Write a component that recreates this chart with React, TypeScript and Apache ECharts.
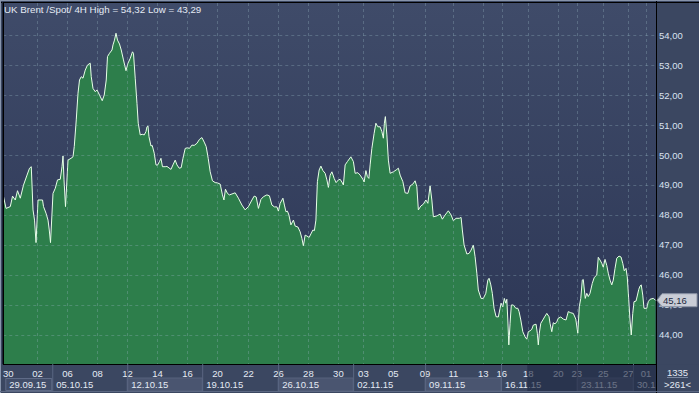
import React, { useEffect, useRef } from 'react';
import * as echarts from 'echarts';

// 4H bars of UK Brent spot (x = bar number since the first visible bar)
const barIndex = [
  0.1, 1.1, 2.8, 3.7, 4.8, 5.7, 6.8, 8.1, 9.5, 10.5, 11.2, 11.9, 12.5, 13.1, 13.9, 15.7, 16.1, 17.1, 17.9, 18.4,
  18.9, 19.9, 20.8, 21.7, 22.8, 23.5, 23.9, 24.3, 24.9, 25.9, 27.1, 27.9, 28.4, 29.2, 29.9, 30.5, 31.2, 31.9, 32.8, 33.7,
  34.8, 35.2, 35.9, 36.8, 37.5, 38.5, 39.6, 40.4, 41.2, 41.7, 42.5, 43.5, 43.9, 44.5, 45.1, 45.7, 46.5, 47.2, 48.1, 49.1,
  49.9, 50.8, 51.7, 52.1, 52.8, 53.5, 54.0, 54.8, 55.6, 56.4, 57.1, 57.5, 57.9, 58.3, 59.1, 59.6, 60.4, 61.1, 61.7, 62.5,
  63.1, 63.7, 64.8, 65.5, 67.1, 67.9, 68.8, 69.5, 70.4, 71.2, 71.9, 72.8, 73.7, 74.5, 75.5, 76.4, 77.5, 78.5, 79.5, 80.4,
  81.2, 82.0, 82.8, 83.7, 84.8, 85.7, 86.8, 87.7, 88.3, 88.9, 89.7, 90.5, 92.8, 94.1, 95.5, 96.8, 98.1, 99.5, 100.4, 101.2,
  102.1, 103.1, 104.1, 105.5, 106.5, 107.5, 108.5, 109.5, 110.1, 110.8, 111.9, 112.5, 113.1, 113.7, 114.3, 115.1, 116.1, 116.8, 117.9, 118.8,
  119.5, 120.1, 120.8, 121.5, 122.4, 123.1, 123.9, 124.5, 125.1, 125.7, 126.4, 127.1, 127.9, 128.8, 129.5, 130.1, 130.8, 131.5, 132.4, 133.2,
  134.1, 134.8, 135.5, 136.1, 136.8, 137.7, 139.1, 140.1, 140.8, 141.9, 142.8, 143.9, 144.4, 145.1, 145.7, 146.3, 146.8, 147.5, 148.4, 149.1,
  149.9, 150.8, 151.5, 152.1, 152.5, 152.9, 153.5, 154.1, 154.8, 156.1, 157.2, 158.1, 158.8, 159.9, 160.8, 161.9, 162.8, 163.9, 164.8, 165.5,
  166.1, 167.1, 168.1, 169.1, 169.9, 170.8, 171.5, 172.1, 173.5, 174.8, 175.7, 176.8, 178.1, 179.2, 180.1, 181.2, 182.5, 183.2, 183.7, 184.4,
  185.5, 186.4, 187.2, 188.1, 188.8, 189.5, 190.1, 191.2, 192.1, 193.1, 193.9, 194.4, 195.1, 195.7, 196.4, 197.2, 198.1, 198.8, 199.2, 199.9,
  200.5, 201.1, 201.5, 201.9, 202.3, 202.8, 203.3, 204.1, 205.1, 205.9, 206.4, 207.1, 207.9, 208.8, 209.5, 210.1, 210.8, 211.5, 212.1, 213.2,
  213.7, 214.1, 214.5, 215.1, 215.9, 216.8, 217.5, 218.4, 218.8, 219.5, 220.1, 220.8, 221.5, 222.1, 223.1, 224.1, 225.2, 226.1, 227.1, 228.1,
  229.1, 229.9, 230.5, 231.1, 231.7, 232.1, 232.4, 232.9, 233.5, 234.1, 234.8, 235.7, 236.5, 237.5, 238.1, 238.8, 239.5, 240.1, 240.8, 241.5,
  242.1, 242.8, 243.5, 244.1, 244.8, 245.5, 246.4, 247.2, 247.9, 248.5, 249.2, 249.7, 250.3, 250.8, 251.3, 251.9, 252.4, 253.2, 253.7, 254.3,
  254.8, 255.3, 255.9, 256.4, 257.5, 258.1, 258.8, 260.1, 261.0,
];

const closePrice = [
  48.61, 48.22, 48.28, 48.63, 48.5, 48.81, 48.56, 49.0, 49.33, 49.56, 49.61, 48.17, 47.83, 47.08, 48.5, 48.5, 48.28, 48.06, 47.83, 47.5,
  47.08, 48.72, 48.89, 49.17, 49.19, 49.61, 49.97, 49.17, 48.28, 49.83, 49.89, 49.94, 50.28, 51.17, 52.06, 52.5, 52.61, 52.56, 52.83, 53.0,
  53.06, 52.61, 52.22, 52.11, 52.17, 52.0, 51.81, 52.0, 52.5, 53.28, 53.39, 53.5, 53.67, 53.83, 54.06, 53.83, 53.7, 53.5, 53.17, 52.81,
  53.06, 53.22, 53.44, 53.39, 52.56, 51.72, 51.06, 50.67, 50.69, 50.67, 50.78, 50.94, 50.97, 50.61, 50.3, 50.32, 50.06, 49.67, 49.66, 49.78,
  49.89, 49.61, 49.61, 49.62, 49.52, 49.67, 49.83, 49.67, 49.56, 49.58, 49.89, 50.22, 50.24, 50.22, 50.33, 50.32, 50.39, 50.52, 50.58, 50.43,
  50.28, 49.89, 49.44, 49.14, 49.08, 49.07, 49.03, 48.67, 48.5, 48.86, 48.72, 48.67, 48.74, 48.56, 48.33, 48.17, 48.28, 48.5, 48.63, 48.6,
  48.22, 48.52, 48.61, 48.67, 48.64, 48.33, 48.27, 48.27, 48.13, 48.39, 48.56, 48.33, 48.11, 48.13, 48.0, 47.67, 47.83, 47.63, 47.6, 47.44,
  47.22, 46.97, 47.33, 47.3, 47.25, 47.37, 47.5, 47.48, 47.83, 49.11, 49.5, 49.63, 49.48, 49.39, 49.17, 48.92, 49.33, 49.44, 49.22, 49.08,
  49.17, 49.19, 49.1, 49.0, 49.67, 49.78, 49.94, 49.78, 49.39, 49.41, 49.33, 49.19, 49.1, 49.48, 49.28, 49.22, 49.67, 50.22, 50.72, 51.06,
  50.94, 50.94, 50.78, 50.56, 51.06, 51.28, 50.67, 49.83, 49.39, 49.44, 49.5, 49.56, 49.33, 49.11, 48.74, 48.72, 48.97, 49.03, 49.14, 48.94,
  48.17, 48.3, 48.36, 48.5, 48.39, 48.97, 48.5, 47.94, 47.97, 48.03, 47.86, 48.0, 48.14, 48.0, 47.81, 47.89, 47.89, 47.92, 47.5, 47.0,
  46.7, 46.72, 46.83, 47.0, 46.61, 46.06, 45.5, 45.22, 45.22, 45.39, 45.83, 45.89, 45.67, 45.39, 44.89, 44.61, 44.6, 44.89, 45.06, 44.94,
  45.22, 45.06, 45.19, 44.5, 43.67, 44.39, 45.0, 45.0, 44.89, 44.89, 44.78, 44.5, 44.11, 43.94, 43.86, 44.11, 44.14, 44.19, 44.33, 44.36,
  44.06, 43.67, 44.06, 44.39, 44.5, 44.63, 44.72, 44.61, 44.39, 44.11, 44.41, 44.37, 44.44, 44.56, 44.6, 44.53, 44.5, 44.78, 44.74, 44.72,
  44.53, 44.06, 44.94, 45.22, 45.83, 45.85, 45.6, 45.22, 45.39, 45.28, 45.39, 45.72, 45.92, 46.0, 46.59, 46.5, 46.39, 46.26, 46.52, 46.32,
  46.06, 45.83, 45.67, 45.83, 46.22, 46.56, 46.63, 46.6, 46.39, 46.14, 46.22, 45.94, 45.17, 44.5, 44.0, 44.72, 45.11, 45.13, 45.3, 45.52,
  45.63, 45.67, 45.33, 44.89, 44.89, 45.11, 45.19, 45.22, 45.16,
];

const dayLabels = ['30', '02', '06', '08', '12', '14', '16', '20', '22', '26', '28', '30', '03', '05', '09', '11', '13', '16', '18', '20', '23', '25', '27', '01'];
const dayBars = [2.0, 13.7, 25.7, 37.7, 49.7, 61.7, 73.7, 85.7, 98.1, 110.1, 122.1, 134.1, 144.1, 156.1, 168.8, 180.1, 192.1, 199.5, 210.1, 222.1, 229.5, 240.1, 250.1, 257.2];

const weekLabels = ['29.09.15', '05.10.15', '12.10.15', '19.10.15', '26.10.15', '02.11.15', '09.11.15', '16.11.15', '23.11.15', '30.11.15'];
const weekBars = [0.8, 19.6, 49.6, 79.6, 110.0, 140.0, 168.8, 199.2, 229.6, 252.0];

const priceTicks = [44, 45, 46, 47, 48, 49, 50, 51, 52, 53, 54];

const titleText = 'UK Brent /Spot/ 4H High = 54,32 Low = 43,29';
const lastPrice = 45.16;
const totalBars = '1335';
const visibleBars = '>261<';
const selectionStartBar = 209.7;

const X_MAX = 261.2;
const Y_MIN = 43.033;
const Y_MAX = 55.067;

const GRID = { left: 3, right: 43, top: 3, bottom: 29 };
const CW = 699;
const CH = 393;
const FONT = 'Liberation Sans, Arial, sans-serif';
const LABEL_SIZE = 9.5;
const fmtPrice = (v: number) => v.toFixed(2).replace('.', ',');

export default function App() {
  const ref = useRef<HTMLDivElement>(null);

  useEffect(() => {
    document.body.style.margin = '0';
    const chart = echarts.init(ref.current!, null, { renderer: 'svg' });
    const data = barIndex.map((b, i) => [b, closePrice[i]]);
    const nearest = (bars: number[], v: number) => {
      let best = 0;
      bars.forEach((b, i) => { if (Math.abs(b - v) < Math.abs(bars[best] - v)) best = i; });
      return best;
    };
    const plotWidth = CW - GRID.left - GRID.right;
    const labelFont = `${LABEL_SIZE}px ${FONT}`;

    const gridLine = { show: true, lineStyle: { color: 'rgba(150,178,190,0.33)', type: [3, 3] as any, width: 1 } };

    chart.setOption({
      animation: false,
      backgroundColor: '#3b4761',
      textStyle: { fontFamily: FONT },
      title: {
        text: titleText,
        left: 4,
        top: 4,
        padding: 0,
        textStyle: { color: '#e4eaf4', fontSize: 9.75, fontWeight: 'normal', fontFamily: FONT },
      },
      grid: {
        ...GRID,
        show: true,
        borderWidth: 0,
        backgroundColor: new echarts.graphic.LinearGradient(0, 0, 0, 1, [
          { offset: 0, color: '#3f4b69' },
          { offset: 1, color: '#2c3655' },
        ]),
      },
      xAxis: [
        {
          type: 'value', min: 0, max: X_MAX, z: 5,
          axisLine: { show: true, onZero: false, lineStyle: { color: '#000', width: 1 } },
          axisTick: { show: false, customValues: dayBars.slice(1) },
          splitLine: gridLine,
          axisLabel: {
            customValues: dayBars,
            formatter: (v: number) => dayLabels[nearest(dayBars, v)],
            color: '#e4eaf4', fontSize: LABEL_SIZE, margin: 4, fontFamily: FONT,
          },
        },
        {
          type: 'value', min: 0, max: X_MAX, z: 5, position: 'bottom', offset: 12,
          axisLine: { show: false },
          axisTick: { show: false, customValues: weekBars },
          splitLine: { show: false },
          axisLabel: {
            customValues: weekBars,
            formatter: (v: number) => {
              const txt = weekLabels[nearest(weekBars, v)];
              // the last week's label is cut off by the right edge of the plot
              const room = ((X_MAX - v) / X_MAX) * plotWidth - 1;
              return (echarts as any).format.truncateText(txt, room, labelFont, '');
            },
            color: '#e4eaf4', fontSize: LABEL_SIZE, margin: 3, align: 'left', padding: [0, 0, 0, 4], fontFamily: FONT,
          },
        },
      ],
      yAxis: {
        type: 'value', position: 'right', min: Y_MIN, max: Y_MAX, z: 5,
        axisLine: { show: true, lineStyle: { color: '#000', width: 1 } },
        axisTick: { show: false, customValues: priceTicks },
        splitLine: gridLine,
        axisLabel: {
          customValues: priceTicks,
          formatter: (v: number) => fmtPrice(v),
          color: '#d9e2f0', fontSize: LABEL_SIZE, margin: 3, fontFamily: FONT,
        },
      },
      series: [
        {
          type: 'line',
          data,
          symbol: 'none',
          lineStyle: { color: '#e8ffe8', width: 1 },
          areaStyle: { color: '#2d7e4b', opacity: 1, origin: 'start' },
          z: 2,
        },
      ],
    });

    const X = (b: number) => chart.convertToPixel({ xAxisIndex: 0 }, b) as number;
    const Y = (v: number) => chart.convertToPixel({ yAxisIndex: 0 }, v) as number;
    const right = X(X_MAX);
    const bottom = Y(Y_MIN);
    const W = CW;
    const H = CH;

    const g: any[] = [];
    // week boxes
    weekBars.forEach((b, i) => {
      const x0 = X(b);
      const x1 = i + 1 < weekBars.length ? X(weekBars[i + 1]) : right;
      if (i === 0) {
        g.push({ type: 'rect', z: 1, shape: { x: x0 + 0.5, y: bottom + 14.5, width: x1 - x0 - 1, height: 12 }, style: { fill: '#424e69', stroke: '#5f6b87', lineWidth: 1 } });
      } else if (i % 2 === 0) {
        g.push({ type: 'rect', z: 1, shape: { x: x0, y: bottom + 14, width: x1 - x0, height: 13 }, style: { fill: '#4a5570', stroke: '#56627d', lineWidth: 1 } });
      }
      if (i > 0) {
        g.push({ type: 'line', z: 6, shape: { x1: x0 + 0.5, y1: bottom, x2: x0 + 0.5, y2: H - 2 }, style: { stroke: '#5a6682', lineWidth: 1 } });
      }
    });
    // dimmed selection overlay on the time axis
    g.push({ type: 'rect', z: 20, shape: { x: X(selectionStartBar), y: bottom + 1, width: right - X(selectionStartBar), height: H - bottom - 3 }, style: { fill: 'rgba(30,40,66,0.62)' } });
    // right-bottom panel
    g.push({ type: 'rect', z: 21, shape: { x: right + 0.5, y: bottom + 0.5, width: W - right, height: H - bottom }, style: { fill: '#3b4761' } });
    g.push({ type: 'line', z: 22, shape: { x1: right + 0.5, y1: 0, x2: right + 0.5, y2: H }, style: { stroke: '#000', lineWidth: 1 } });
    g.push({ type: 'text', z: 22, style: { text: totalBars, x: (right + W) / 2, y: bottom + 8, align: 'center', verticalAlign: 'middle', fill: '#e4eaf4', fontSize: LABEL_SIZE, fontFamily: FONT } });
    g.push({ type: 'line', z: 22, shape: { x1: right + 11, y1: bottom + 13.5, x2: W - 11, y2: bottom + 13.5 }, style: { stroke: '#7c88a0', lineWidth: 1 } });
    g.push({ type: 'text', z: 22, style: { text: visibleBars, x: (right + W) / 2, y: bottom + 20, align: 'center', verticalAlign: 'middle', fill: '#e4eaf4', fontSize: LABEL_SIZE, fontFamily: FONT } });
    // frame
    g.push({ type: 'line', z: 23, shape: { x1: 0, y1: 0.5, x2: W, y2: 0.5 }, style: { stroke: '#8794ab', lineWidth: 1 } });
    g.push({ type: 'line', z: 23, shape: { x1: 0, y1: 2.5, x2: W, y2: 2.5 }, style: { stroke: '#000', lineWidth: 1 } });
    g.push({ type: 'line', z: 23, shape: { x1: 0.5, y1: 0, x2: 0.5, y2: H }, style: { stroke: '#8794ab', lineWidth: 1 } });
    g.push({ type: 'line', z: 23, shape: { x1: 2.5, y1: 2, x2: 2.5, y2: bottom }, style: { stroke: '#1c2438', lineWidth: 1 } });
    g.push({ type: 'line', z: 23, shape: { x1: 0, y1: H - 1.5, x2: W, y2: H - 1.5 }, style: { stroke: '#5c6883', lineWidth: 1 } });
    // last price tag
    const yc = Y(lastPrice);
    g.push({
      type: 'polygon', z: 24,
      shape: { points: [[right + 1, yc], [right + 6, yc - 6.5], [W - 2, yc - 6.5], [W - 2, yc + 6.5], [right + 6, yc + 6.5]] },
      style: { fill: '#c9cdd6', stroke: '#8b93a5', lineWidth: 1 },
    });
    g.push({ type: 'text', z: 25, style: { text: fmtPrice(lastPrice), x: right + 7, y: yc, verticalAlign: 'middle', fill: '#1d2940', fontSize: LABEL_SIZE, fontFamily: FONT } });

    chart.setOption({ graphic: g });

    return () => chart.dispose();
  }, []);

  return <div ref={ref} style={{ position: 'absolute', left: 0, top: 0, width: CW, height: CH }} />;
}
